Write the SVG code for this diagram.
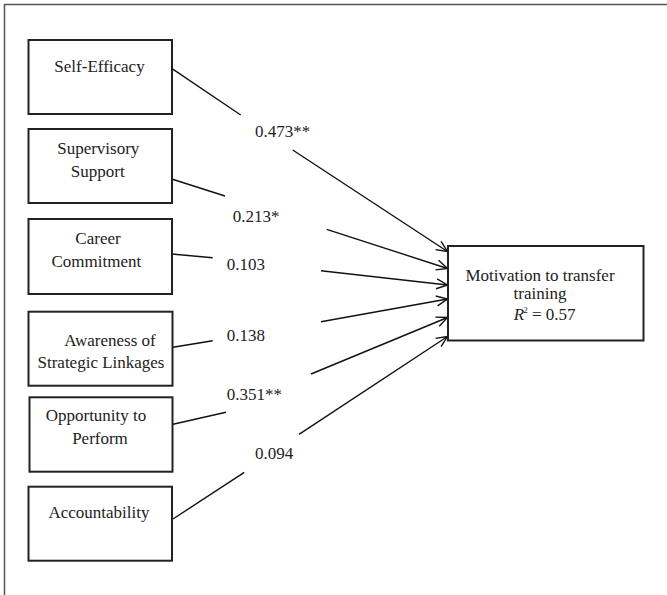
<svg xmlns="http://www.w3.org/2000/svg" width="667" height="595" viewBox="0 0 667 595" font-family="'Liberation Serif', Tinos, 'Times New Roman', 'DejaVu Serif', serif">
<style>
.box{fill:#fff;stroke:#222;stroke-width:2}
text{font-family:'Liberation Serif',Tinos,'Times New Roman','DejaVu Serif',serif;font-size:17px;fill:#222}
.m{text-anchor:middle}
.c{fill:none;stroke:#111;stroke-width:1.4}
</style>
<defs>
<marker id="ah" markerUnits="userSpaceOnUse" markerWidth="16" markerHeight="16" viewBox="-12 -8 14 16" refX="0" refY="0" orient="auto">
<path d="M-11,-5 L0,0 L-11,5" fill="none" stroke="#111" stroke-width="1.4"/>
</marker>
</defs>
<rect width="667" height="595" fill="#fff"/>
<g id="frame">
<path d="M4.5,595 V4.5 H667" fill="none" stroke="#555" stroke-width="1.5"/>
</g>
<g id="connectors">
<path class="c" d="M171.7,68.3 L240.7,115"/>
<path class="c" d="M292.7,150 L447.5,251.5" marker-end="url(#ah)"/>
<path class="c" d="M171.7,179 L225,196"/>
<path class="c" d="M326.7,229.3 L447.5,268.5" marker-end="url(#ah)"/>
<path class="c" d="M171.7,254 L212.7,257.7"/>
<path class="c" d="M321,270.7 L447.5,285" marker-end="url(#ah)"/>
<path class="c" d="M173,347.3 L212.7,340.7"/>
<path class="c" d="M321,321.7 L447.5,299" marker-end="url(#ah)"/>
<path class="c" d="M173,424.3 L226,412.3"/>
<path class="c" d="M311,374 L447.5,317.5" marker-end="url(#ah)"/>
<path class="c" d="M173,519 L244.3,472.3"/>
<path class="c" d="M299,434.3 L447.5,336.5" marker-end="url(#ah)"/>
</g>
<g id="labels">
<text x="255" y="137">0.473**</text>
<text x="232.7" y="222">0.213*</text>
<text x="226.7" y="270">0.103</text>
<text x="226.7" y="341">0.138</text>
<text x="226.7" y="399.5">0.351**</text>
<text x="255" y="458.5">0.094</text>
</g>
<g id="self-efficacy">
<rect class="box" x="28.5" y="40" width="143.5" height="74"/>
<text class="m" x="99.5" y="72">Self-Efficacy</text>
</g>
<g id="supervisory-support">
<rect class="box" x="28.5" y="129" width="143.5" height="74"/>
<text class="m" x="98.3" y="154">Supervisory</text>
<text class="m" x="97.7" y="177">Support</text>
</g>
<g id="career-commitment">
<rect class="box" x="28.5" y="219" width="143.5" height="75"/>
<text class="m" x="98" y="244">Career</text>
<text class="m" x="96.3" y="267">Commitment</text>
</g>
<g id="awareness">
<rect class="box" x="28.5" y="311.7" width="144" height="74"/>
<text class="m" x="110" y="346">Awareness of</text>
<text class="m" x="101" y="367.5">Strategic Linkages</text>
</g>
<g id="opportunity">
<rect class="box" x="29.5" y="397.3" width="143" height="74.4"/>
<text class="m" x="96" y="421">Opportunity to</text>
<text class="m" x="100" y="444">Perform</text>
</g>
<g id="accountability">
<rect class="box" x="28.5" y="486.7" width="143.5" height="74"/>
<text class="m" x="99" y="518.3">Accountability</text>
</g>
<g id="motivation">
<rect class="box" x="448" y="246" width="195.5" height="94.5"/>
<text class="m" x="540" y="281">Motivation to transfer</text>
<text class="m" x="540" y="298.5">training</text>
<text class="m" x="544.7" y="320"><tspan font-style="italic">R</tspan><tspan font-size="9" dy="-7" dx="-1">2</tspan><tspan dy="7"> = 0.57</tspan></text>
</g>
</svg>
